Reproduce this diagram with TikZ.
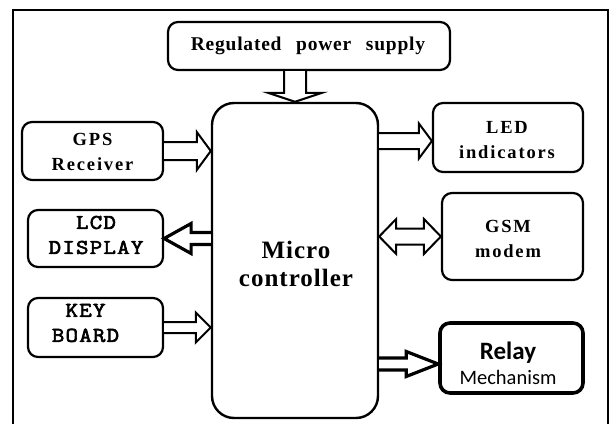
\documentclass[tikz,border=0pt]{standalone}
\usepackage{fontspec}
\setmainfont{Liberation Serif}
\newfontfamily\sbold[LetterSpace=10]{Liberation Serif}
\newfontfamily\pbold[LetterSpace=4]{Liberation Serif}
\newfontfamily\microf[LetterSpace=4]{Liberation Serif}
\newfontfamily\monob[FakeBold=3,FakeStretch=1.15,LetterSpace=6]{Latin Modern Mono}
\newfontfamily\calib{Carlito}
\usetikzlibrary{calc}
\newcommand\rarr[6]{%
  \draw[#6] let \p1=(#1), \p2=(#2) in
    (\x1,\y1+#3) -- (\x2-#5,\y1+#3) -- (\x2-#5,\y1+#4) -- (\x2,\y1)
    -- (\x2-#5,\y1-#4) -- (\x2-#5,\y1-#3) -- (\x1,\y1-#3);}
\newcommand\larr[6]{%
  \draw[#6] let \p1=(#1), \p2=(#2) in
    (\x1,\y1+#3) -- (\x2+#5,\y1+#3) -- (\x2+#5,\y1+#4) -- (\x2,\y1)
    -- (\x2+#5,\y1-#4) -- (\x2+#5,\y1-#3) -- (\x1,\y1-#3);}
\newcommand\darr[6]{%
  \draw[#6] let \p1=(#1), \p2=(#2) in
    (\x1+#3,\y1) -- (\x1+#3,\y2+#5) -- (\x1+#4,\y2+#5) -- (\x1,\y2)
    -- (\x1-#4,\y2+#5) -- (\x1-#3,\y2+#5) -- (\x1-#3,\y1);}
\newcommand\bdarr[6]{%
  \draw[#6] let \p1=(#1), \p2=(#2) in
    (\x1,\y1) -- (\x1+#5,\y1+#4) -- (\x1+#5,\y1+#3) -- (\x2-#5,\y1+#3)
    -- (\x2-#5,\y1+#4) -- (\x2,\y1) -- (\x2-#5,\y1-#4) -- (\x2-#5,\y1-#3)
    -- (\x1+#5,\y1-#3) -- (\x1+#5,\y1-#4) -- cycle;}
\tikzset{
  box/.style={draw, line width=2.2pt, rounded corners=10pt, inner sep=0pt},
  txt/.style={inner sep=0pt, align=center},
  arrowline/.style={draw, line width=2pt, line join=miter, fill=white},
  thickarrow/.style={draw, line width=3.2pt, line join=miter, fill=white},
  sfont/.style={font=\sbold\bfseries\fontsize{18.5}{25}\selectfont},
  mfont/.style={font=\monob\fontsize{21}{25}\selectfont},
}
\begin{document}
\begin{tikzpicture}[x=1pt,y=-1pt]
\useasboundingbox (0,0) rectangle (613,423);
% outer frame
\draw[line width=2pt] (13,430) -- (13,10) -- (608,10) -- (608,430);
% boxes
\node[box, minimum width=282pt, minimum height=48pt] (power) at (309,46) {};
\node[box, minimum width=141pt, minimum height=58pt] (gps) at (92.5,151) {};
\node[box, minimum width=135pt, minimum height=57pt] (lcd) at (95.5,238.5) {};
\node[box, minimum width=135pt, minimum height=59pt] (key) at (95.5,327.5) {};
\node[box, rounded corners=22pt, line width=2.4pt, minimum width=166pt, minimum height=315pt] (mc) at (295,260.5) {};
\node[box, minimum width=150pt, minimum height=69pt] (led) at (508,137.5) {};
\node[box, minimum width=141pt, minimum height=87pt] (gsm) at (512.5,236.5) {};
\node[box, line width=3.6pt, minimum width=143pt, minimum height=70pt] (relay) at (511.5,358) {};
% texts
\node[txt, font=\pbold\bfseries\fontsize{19.5}{22}\selectfont] (powert) at (308,46) {Regulated\hspace{0.75em}power\hspace{0.75em}supply};
\node[txt, sfont] (gpst) at (92.5,152) {GPS\\Receiver};
\node[txt, mfont] (lcdt) at (96,235) {LCD\\DISPLAY};
\node[txt, mfont] (keyt) at (85.5,323) {KEY\\BOARD};
\node[txt, font=\microf\bfseries\fontsize{25}{28}\selectfont] (mct) at (296,264) {Micro\\controller};
\node[txt, sfont] (ledt) at (507,140) {LED\\indicators};
\node[txt, sfont] (gsmt) at (508,238.5) {GSM\\modem};
\node[txt, font=\calib\fontsize{20.5}{25}\selectfont] (relayt) at (508,363) {{\bfseries\fontsize{25}{25}\selectfont Relay}\\Mechanism};
% connector anchor points
\coordinate (ledin) at ([yshift=-3.5pt]led.west);
\coordinate (relayin) at ([yshift=-6pt]relay.west);
% connectors
\darr{power.south -| mc.north}{mc.north}{11pt}{27pt}{9pt}{arrowline}
\rarr{gps.east}{mc.west |- gps.east}{9pt}{19pt}{14pt}{arrowline}
\larr{mc.west |- lcd.east}{lcd.east}{6pt}{15pt}{27pt}{thickarrow}
\rarr{key.east}{mc.west |- key.east}{5.5pt}{15pt}{15pt}{arrowline}
\rarr{mc.east |- ledin}{ledin}{8pt}{17.5pt}{13pt}{arrowline}
\bdarr{mc.east |- gsm.west}{gsm.west}{8pt}{17.5pt}{17pt}{arrowline}
\rarr{mc.east |- relayin}{relayin}{6pt}{12.5pt}{32pt}{thickarrow}
\end{tikzpicture}
\end{document}
